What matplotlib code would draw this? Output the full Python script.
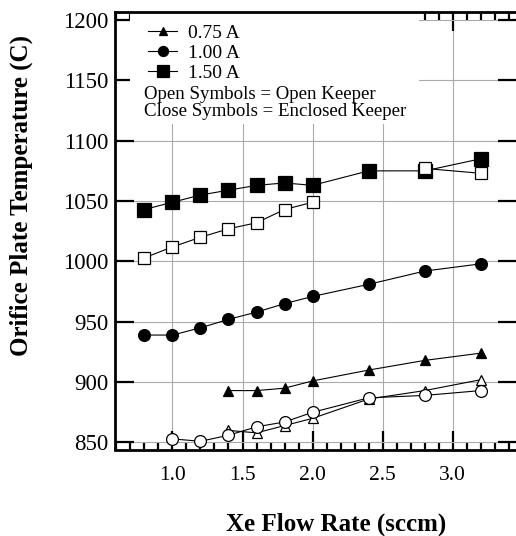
import numpy as np
import matplotlib.pyplot as plt
from matplotlib.patches import Rectangle
from matplotlib.ticker import MultipleLocator

# Dados
fluxo = [0.8, 1.0, 1.2, 1.4, 1.6, 1.8, 2.0, 2.4, 2.8, 3.2]
nan = np.nan

quad_fechado = [1043, 1049, 1055, 1059, 1063, 1065, 1063, 1075, 1075, 1085]
quad_aberto  = [1003, 1012, 1020, 1027, 1032, 1043, 1049, nan, 1077, 1073]
circ_fechado = [939, 939, 945, 952, 958, 965, 971, 981, 992, 998]
circ_aberto  = [nan, 853, 851, 856, 863, 867, 875, 887, 889, 893]
tri_fechado  = [nan, nan, nan, 893, 893, 895, 901, 910, 918, 924]
tri_aberto   = [nan, nan, nan, 860, 858, 864, 870, 886, 893, 902]

legendas = ['0.75 A', '1.00 A', '1.50 A']
nota1 = 'Open Symbols = Open Keeper'
nota2 = 'Close Symbols = Enclosed Keeper'

legendaEixoX = 'Xe Flow Rate (sccm)'
legendaEixoY = 'Orifice Plate Temperature (C)'
nomeArquivoGerado = 'out.png'

plt.rcParams['font.family'] = ['Liberation Serif', 'DejaVu Serif']

fig = plt.figure(figsize=(5.16, 5.36), dpi=100)
ax = fig.add_axes([115/516, 1 - 449.5/536, 402/516, 437.5/536])

def serie(y, marcador, tam, aberto):
    face = 'white' if aberto else 'black'
    return ax.plot(fluxo, y, color='black', lw=0.8, marker=marcador,
                   markersize=tam, markerfacecolor=face, markeredgecolor='black',
                   markeredgewidth=0.9, zorder=3)[0]

# fechados por baixo, abertos por cima
h_tri = serie(tri_fechado, '^', 7.5, False)
h_circ = serie(circ_fechado, 'o', 8.5, False)
h_quad = serie(quad_fechado, 's', 9.5, False)
serie(quad_aberto, 's', 8.5, True)
serie(tri_aberto, '^', 7.5, True)
serie(circ_aberto, 'o', 8.5, True)

ax.set_xlim(0.59, 3.459)
ax.set_ylim(844.2, 1206.6)
ax.xaxis.set_major_locator(MultipleLocator(0.5))
ax.xaxis.set_minor_locator(MultipleLocator(0.1))
ax.yaxis.set_major_locator(MultipleLocator(50))
ax.set_xticks([1.0, 1.5, 2.0, 2.5, 3.0])
ax.set_xticklabels(['1.0', '1.5', '2.0', '2.5', '3.0'])

ax.set_axisbelow(True)
ax.grid(True, which='major', color='#aaaaaa', lw=0.8)

ax.tick_params(which='both', direction='in', top=True, right=True,
               labelsize=15.5, width=1.6)
ax.tick_params(which='major', length=13.5)
ax.tick_params(axis='x', which='minor', length=5.5)
ax.tick_params(axis='x', which='major', pad=12)
ax.tick_params(axis='y', which='major', pad=5, labelsize=16.5)
for s in ax.spines.values():
    s.set_linewidth(2.0)

# caixa branca atras da legenda
ax.add_patch(Rectangle((0.037, 0.745), 0.72, 0.26, transform=ax.transAxes,
                       facecolor='white', edgecolor='none', zorder=1))

leg = ax.legend([h_tri, h_circ, h_quad], legendas, loc='upper left',
                bbox_to_anchor=(0.0825, 0.972), frameon=False, fontsize=14,
                handlelength=1.5, handletextpad=0.55, labelspacing=0.12,
                borderpad=0, borderaxespad=0, markerscale=0.85)

ax.text(0.072, 0.8011, nota1, transform=ax.transAxes, fontsize=13.6,
        ha='left', va='baseline', zorder=4)
ax.text(0.072, 0.7623, nota2, transform=ax.transAxes, fontsize=13.6,
        ha='left', va='baseline', zorder=4)

fig.text(336/516, 1 - 524/536, legendaEixoX, fontsize=18, fontweight='bold',
         ha='center', va='center')
fig.text(21/516, 1 - 195/536, legendaEixoY, fontsize=18, fontweight='bold',
         ha='center', va='center', rotation=90)

plt.savefig(nomeArquivoGerado, dpi=100)
plt.close()
